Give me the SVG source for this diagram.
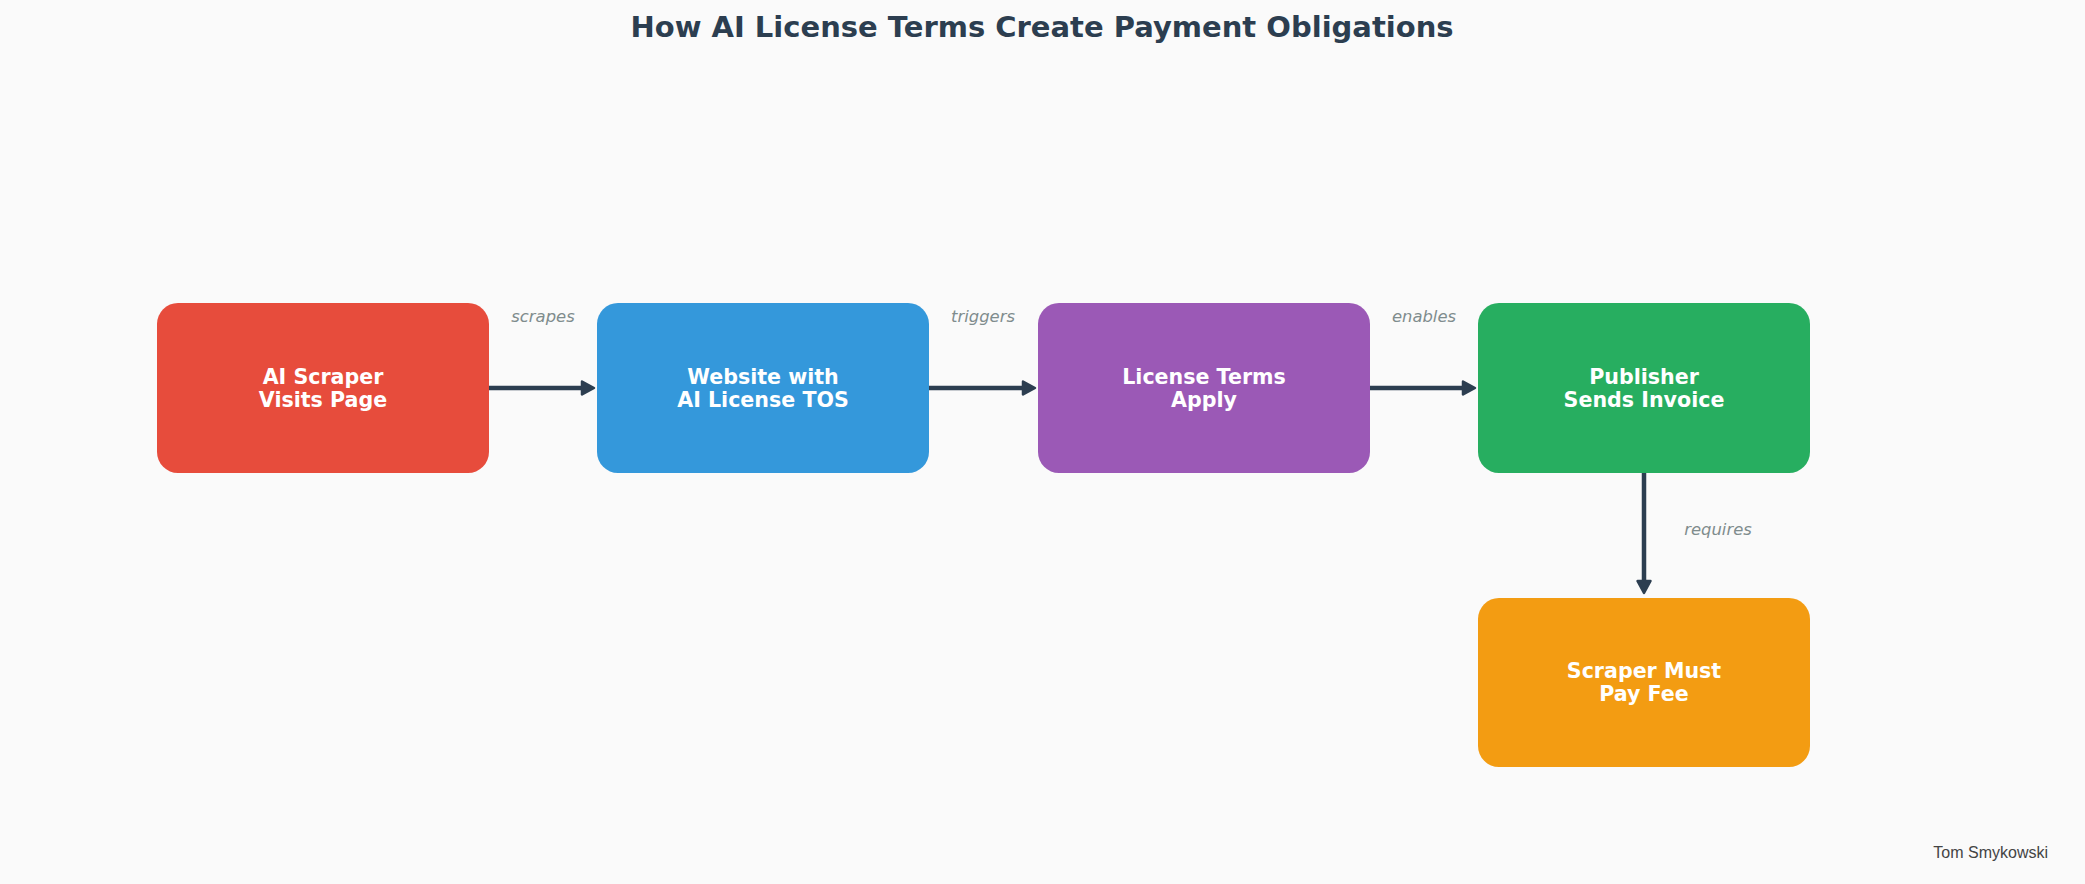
<svg xmlns="http://www.w3.org/2000/svg" width="2085" height="884" viewBox="0 0 2085 884">
<style>
.title{font-family:"DejaVu Sans",sans-serif;font-weight:bold;font-size:29px;fill:#2c3e50;text-anchor:middle}
.nt{font-family:"DejaVu Sans",sans-serif;font-weight:bold;font-size:20.6px;fill:#ffffff;text-anchor:middle}
.el{font-family:"DejaVu Sans",sans-serif;font-style:italic;font-size:16.4px;fill:#7f8c8d;text-anchor:middle}
.conn{stroke:#2c3e50;stroke-width:4.5;fill:none;stroke-linecap:round}
.author{font-family:"Liberation Sans",sans-serif;font-size:16px;fill:#444;text-anchor:end}
</style>
<defs>
<marker id="ah" markerUnits="userSpaceOnUse" markerWidth="18" markerHeight="18" refX="2" refY="8" orient="auto">
<path d="M2,1.5 L14,8 L2,14.5 Z" fill="#2c3e50" stroke="#2c3e50" stroke-width="2.5" stroke-linejoin="round"/>
</marker>
</defs>
<rect width="2085" height="884" fill="#fafafa"/>
<text class="title" x="1042" y="37">How AI License Terms Create Payment Obligations</text>
<g id="connectors">
<line class="conn" x1="489" y1="388" x2="582" y2="388" marker-end="url(#ah)"/>
<line class="conn" x1="929" y1="388" x2="1023" y2="388" marker-end="url(#ah)"/>
<line class="conn" x1="1370" y1="388" x2="1463" y2="388" marker-end="url(#ah)"/>
<line class="conn" x1="1644" y1="473" x2="1644" y2="581" marker-end="url(#ah)"/>
<text class="el" x="543" y="322">scrapes</text>
<text class="el" x="983" y="322">triggers</text>
<text class="el" x="1424" y="322">enables</text>
<text class="el" x="1718" y="535">requires</text>
</g>
<g id="n1">
<rect x="157" y="303" width="332" height="170" rx="21" fill="#e74c3c"/>
<text class="nt" x="323" y="384">AI Scraper</text>
<text class="nt" x="323" y="407">Visits Page</text>
</g>
<g id="n2">
<rect x="597" y="303" width="332" height="170" rx="21" fill="#3498db"/>
<text class="nt" x="763" y="384">Website with</text>
<text class="nt" x="763" y="407">AI License TOS</text>
</g>
<g id="n3">
<rect x="1038" y="303" width="332" height="170" rx="21" fill="#9b59b6"/>
<text class="nt" x="1204" y="384">License Terms</text>
<text class="nt" x="1204" y="407">Apply</text>
</g>
<g id="n4">
<rect x="1478" y="303" width="332" height="170" rx="21" fill="#27ae60"/>
<text class="nt" x="1644" y="384">Publisher</text>
<text class="nt" x="1644" y="407">Sends Invoice</text>
</g>
<g id="n5">
<rect x="1478" y="598" width="332" height="169" rx="21" fill="#f39c12"/>
<text class="nt" x="1644" y="678">Scraper Must</text>
<text class="nt" x="1644" y="701">Pay Fee</text>
</g>
<text class="author" x="2048" y="858">Tom Smykowski</text>
</svg>
